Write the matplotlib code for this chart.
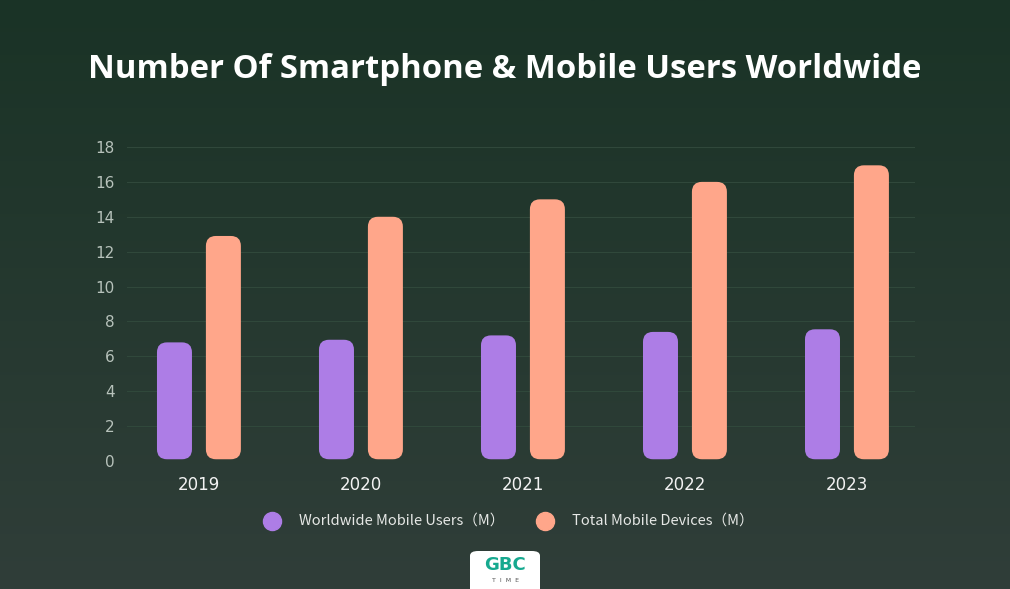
import matplotlib.pyplot as plt
import numpy as np
from matplotlib.patches import FancyBboxPatch

years = ['2019', '2020', '2021', '2022', '2023']
mobile_users = [6.8, 6.95, 7.2, 7.4, 7.55]
mobile_devices = [12.9, 14.0, 15.0, 16.0, 16.95]
y_ticks = [0, 2, 4, 6, 8, 10, 12, 14, 16, 18]

purple = '#ad7de6'
orange = '#ffa68a'

fig = plt.figure(figsize=(10.1, 5.89), dpi=100)

# background gradient
bg = fig.add_axes([0, 0, 1, 1], zorder=-10)
grad = np.linspace(0, 1, 256).reshape(-1, 1)
top = np.array([0x1a, 0x33, 0x26]) / 255
bot = np.array([0x30, 0x3e, 0x39]) / 255
img = top + grad[..., None] * (bot - top)
bg.imshow(img, aspect='auto', extent=[0, 1, 0, 1])
bg.axis('off')

fig.text(0.5, 1 - 70 / 589, 'Number Of Smartphone & Mobile Users Worldwide',
         ha='center', va='center', color='white', fontsize=23.7,
         fontweight='bold', family='Open Sans')

ax = fig.add_axes([127 / 1010, 1 - 461 / 589, 788 / 1010, 314 / 589])
ax.patch.set_alpha(0)
x = np.arange(len(years))
w = 0.216
off = 0.151
b1 = ax.bar(x - off, mobile_users, w, color=purple)
b2 = ax.bar(x + off, mobile_devices, w, color=orange)
ax.set_xlim(-0.444, 4.42)
ax.set_ylim(0, 18)

# rounded bars
px_x = 788 / 4.864
px_y = 314 / 18
r = 10 / px_x
for bars in (b1, b2):
    for b in bars:
        bx, by = b.get_x(), b.get_y() + 0.1
        bw, bh = b.get_width(), b.get_height() - 0.1
        fc = b.get_facecolor()
        b.remove()
        ax.add_patch(FancyBboxPatch((bx, by), bw, bh,
                                    boxstyle=f'round,pad=0,rounding_size={r}',
                                    mutation_aspect=px_x / px_y,
                                    fc=fc, ec='none', zorder=3))

ax.set_yticks(y_ticks)
ax.set_xticks(x)
ax.set_xticklabels(years)
ax.grid(axis='y', color='#30483b', linewidth=0.8)
ax.set_axisbelow(True)
for s in ax.spines.values():
    s.set_visible(False)
ax.tick_params(axis='y', length=0, pad=9, colors='#b7c2bb', labelsize=11)
ax.tick_params(axis='x', length=0, pad=11, colors='#f2f2f2', labelsize=12)

# legend
for cx, col, label in [(272, purple, 'Worldwide Mobile Users（M）'),
                       (545, orange, 'Total Mobile Devices（M）')]:
    fig.add_artist(plt.Line2D([cx / 1010], [1 - 521 / 589], marker='o',
                              markersize=13, color=col, linestyle='none'))
    fig.text((cx + 27) / 1010, 1 - 521 / 589, label, ha='left', va='center',
             color='#e6e8e6', fontsize=10.5, family=['Noto Sans CJK SC', 'DejaVu Sans'])

# logo
fig.add_artist(FancyBboxPatch((470 / 1010, -0.05), 70 / 1010, (589 - 551) / 589 + 0.05,
                              boxstyle='round,pad=0,rounding_size=0.008',
                              transform=fig.transFigure, fc='white', ec='none'))
fig.text(505 / 1010, 1 - 565 / 589, 'GBC', ha='center', va='center',
         color='#16a98f', fontsize=13, fontweight='bold')
fig.text(505 / 1010, 1 - 580 / 589, 'T  I  M  E', ha='center', va='center',
         color='#555555', fontsize=4.5)

fig.savefig('out.png', dpi=100)
